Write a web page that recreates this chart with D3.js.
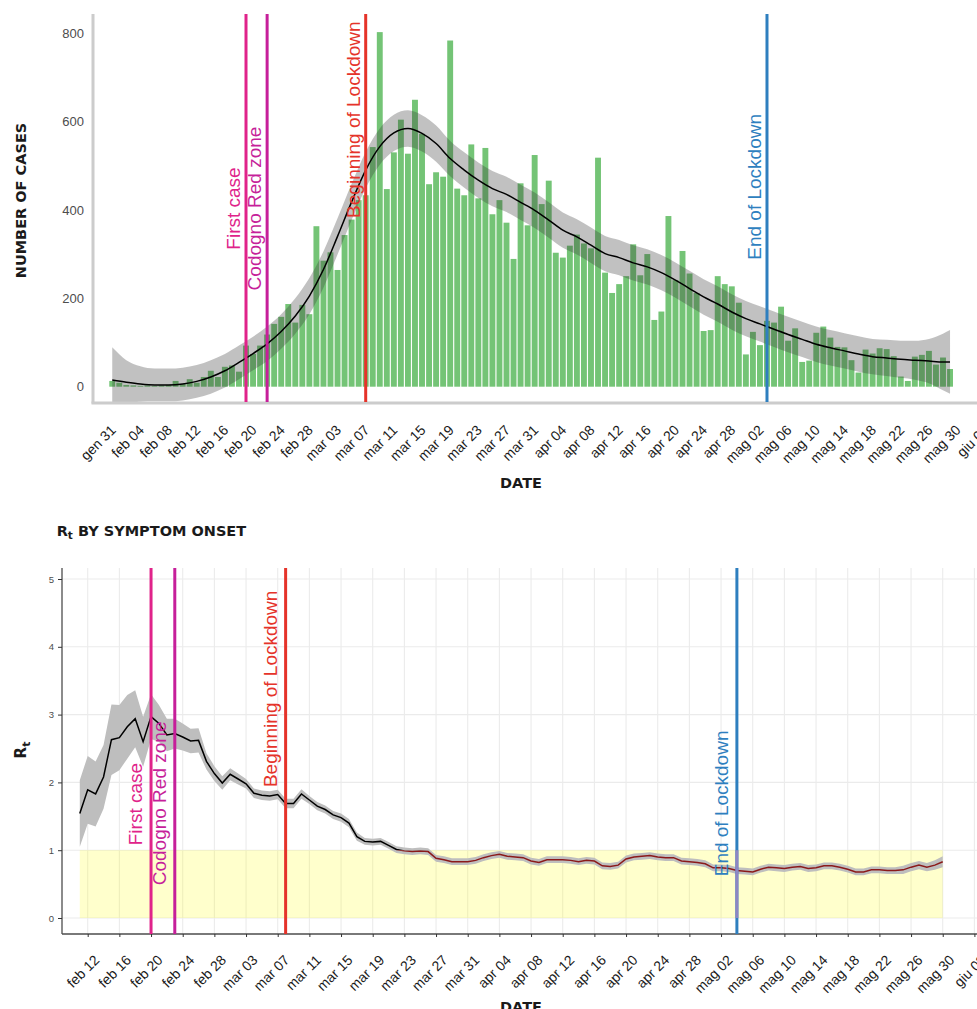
<!DOCTYPE html>
<html>
<head>
<meta charset="utf-8">
<script src="https://cdn.jsdelivr.net/npm/d3@7"></script>
<style>
body { margin: 0; background: #fff; }
svg text { font-family: "Liberation Sans", Arial, sans-serif; }
.title { font-family: "DejaVu Sans", sans-serif; font-weight: bold; fill: #1a1a1a; }
</style>
</head>
<body>
<svg id="chart" width="977" height="1009"></svg>
<script>
// daily cases by symptom onset, from 1 Feb to 30 May
var casesStart = "2020-02-01";
var cases = [13, 9, 4, 3, 2, 3, 2, 3, 4, 13,
  6, 17, 9, 22, 36, 22, 45, 48, 34, 93,
  74, 93, 118, 142, 158, 187, 145, 185, 164, 363,
  285, 304, 264, 343, 378, 422, 433, 542, 802, 447,
  530, 604, 527, 649, 572, 458, 485, 475, 783, 448,
  433, 548, 426, 540, 390, 422, 371, 289, 460, 365,
  524, 413, 466, 303, 292, 319, 344, 324, 313, 518,
  258, 212, 232, 250, 322, 252, 300, 151, 170, 386,
  241, 307, 256, 212, 126, 128, 250, 232, 227, 190,
  73, 124, 94, 149, 145, 181, 104, 132, 56, 59,
  122, 136, 111, 90, 89, 60, 32, 84, 75, 87,
  85, 69, 23, 13, 68, 72, 81, 50, 66, 40];

// smoothed curve (days after casesStart), fit and half width of the band
var smoothDay = [0, 2, 4, 6, 8, 10, 12, 14, 16, 18,
  20, 22, 24, 26, 28, 30, 32, 34, 36, 38,
  40, 42, 44, 46, 48, 50, 52, 54, 56, 58,
  60, 62, 64, 66, 68, 70, 72, 74, 76, 78,
  80, 82, 84, 86, 88, 90, 92, 94, 96, 98,
  100, 102, 104, 106, 108, 110, 112, 114, 116, 118, 119];
var smoothFit = [15, 10, 6, 4, 4, 6, 12, 22, 36, 55,
  75, 97, 125, 160, 205, 265, 340, 418, 490, 543,
  574, 584, 573, 550, 516, 490, 467, 448, 435, 417,
  399, 377, 354, 339, 320, 301, 292, 280, 271, 258,
  241, 222, 203, 187, 169, 154, 142, 130, 118, 107,
  96, 88, 81, 74, 68, 65, 62, 60, 58, 56, 56];
var smoothSe = [74, 50, 40, 37, 37, 37, 37, 38, 38, 38,
  38, 39, 39, 40, 41, 41, 41, 41, 41, 41,
  41, 41, 41, 41, 40, 40, 40, 40, 40, 40,
  40, 40, 40, 40, 40, 40, 40, 40, 40, 40,
  40, 40, 40, 40, 40, 40, 40, 40, 40, 40,
  40, 40, 40, 40, 40, 41, 42, 44, 50, 64, 72];

// Rt by symptom onset, from 11 Feb to 30 May
var rtStart = "2020-02-11";
var rtMean = [1.54, 1.89, 1.83, 2.08, 2.63, 2.66, 2.82, 2.94, 2.60, 2.97,
  2.87, 2.70, 2.72, 2.67, 2.61, 2.62, 2.31, 2.13, 1.99, 2.12,
  2.05, 1.98, 1.84, 1.81, 1.80, 1.82, 1.69, 1.69, 1.83, 1.74,
  1.65, 1.60, 1.52, 1.48, 1.40, 1.20, 1.13, 1.12, 1.13, 1.07,
  1.01, 0.99, 0.98, 0.99, 0.98, 0.88, 0.86, 0.83, 0.83, 0.83,
  0.85, 0.89, 0.92, 0.94, 0.91, 0.90, 0.89, 0.84, 0.82, 0.86,
  0.86, 0.86, 0.85, 0.83, 0.85, 0.84, 0.77, 0.76, 0.78, 0.87,
  0.90, 0.91, 0.92, 0.90, 0.89, 0.89, 0.84, 0.83, 0.82, 0.80,
  0.74, 0.74, 0.73, 0.70, 0.69, 0.68, 0.72, 0.75, 0.74, 0.73,
  0.75, 0.76, 0.73, 0.74, 0.77, 0.77, 0.75, 0.72, 0.68, 0.68,
  0.71, 0.71, 0.70, 0.70, 0.71, 0.75, 0.78, 0.75, 0.78, 0.83];
var rtSpread = [0.49, 0.50, 0.48, 0.47, 0.52, 0.48, 0.47, 0.42, 0.37, 0.33,
  0.27, 0.24, 0.22, 0.20, 0.18, 0.18, 0.12, 0.11, 0.10, 0.09,
  0.08, 0.07, 0.07, 0.07, 0.07, 0.07, 0.07, 0.07, 0.07, 0.06,
  0.06, 0.06, 0.06, 0.06, 0.06, 0.06, 0.05, 0.05, 0.05, 0.05,
  0.05, 0.05, 0.05, 0.05, 0.05, 0.05, 0.05, 0.05, 0.05, 0.05,
  0.05, 0.05, 0.05, 0.05, 0.05, 0.05, 0.05, 0.05, 0.05, 0.05,
  0.05, 0.05, 0.05, 0.05, 0.05, 0.05, 0.05, 0.05, 0.05, 0.05,
  0.05, 0.05, 0.05, 0.05, 0.05, 0.05, 0.05, 0.05, 0.05, 0.05,
  0.05, 0.05, 0.05, 0.05, 0.05, 0.05, 0.05, 0.05, 0.05, 0.05,
  0.05, 0.05, 0.05, 0.05, 0.05, 0.05, 0.05, 0.05, 0.05, 0.05,
  0.05, 0.05, 0.05, 0.05, 0.06, 0.06, 0.06, 0.06, 0.07, 0.08];

var eventDates = ["2020-02-20", "2020-02-23", "2020-03-08", "2020-05-04"];
var eventLabels = ["First case", "Codogno Red zone", "Beginning of Lockdown", "End of Lockdown"];

var shortMonthsIt = ["gen", "feb", "mar", "apr", "mag", "giu", "lug", "ago", "set", "ott", "nov", "dic"];
var yTicksCases = [0, 200, 400, 600, 800];
var yTicksRt = [0, 1, 2, 3, 4, 5];

var eventColor = ["#e0238a", "#c61f9a", "#e5332a", "#2e7fbf"];

var svg = d3.select("#chart");

function utc(s) { return new Date(s + "T00:00:00Z"); }
function addDays(s, n) { return d3.utcDay.offset(utc(s), n); }

var itLocale = d3.timeFormatLocale({
  dateTime: "%A %e %B %Y, %X", date: "%d/%m/%Y", time: "%H:%M:%S",
  periods: ["AM", "PM"],
  days: ["domenica", "lunedì", "martedì", "mercoledì", "giovedì", "venerdì", "sabato"],
  shortDays: ["dom", "lun", "mar", "mer", "gio", "ven", "sab"],
  months: ["gennaio", "febbraio", "marzo", "aprile", "maggio", "giugno", "luglio", "agosto", "settembre", "ottobre", "novembre", "dicembre"],
  shortMonths: shortMonthsIt
});
var fmtDay = itLocale.utcFormat("%b %d");

// ---------- top chart: number of cases ----------
var p1 = {left: 93, right: 977, top: 14, bottom: 402};

var x1 = d3.scaleUtc()
  .domain([utc("2020-01-31"), utc("2020-06-03")])
  .range([105.2, 978.2]);
var y1 = d3.scaleLinear()
  .domain([0, 800])
  .range([386.7, 33]);

svg.append("clipPath").attr("id", "clip1")
  .append("rect")
  .attr("x", p1.left).attr("y", p1.top)
  .attr("width", p1.right - p1.left).attr("height", p1.bottom - p1.top);

var g1 = svg.append("g");
var bw = 5.9;

g1.selectAll("rect.bar")
  .data(cases)
  .join("rect")
  .attr("class", "bar")
  .attr("x", function (d, i) { return x1(addDays(casesStart, i)) - bw / 2; })
  .attr("width", bw)
  .attr("y", function (d) { return y1(d); })
  .attr("height", function (d) { return y1(0) - y1(d); })
  .attr("fill", "#74c476");

var smooth = smoothDay.map(function (d, i) {
  return {date: addDays(casesStart, d), fit: smoothFit[i], se: smoothSe[i]};
});

g1.append("path")
  .datum(smooth)
  .attr("clip-path", "url(#clip1)")
  .attr("fill", "#333")
  .attr("fill-opacity", 0.3)
  .attr("d", d3.area()
    .x(function (d) { return x1(d.date); })
    .y0(function (d) { return y1(d.fit - d.se); })
    .y1(function (d) { return y1(d.fit + d.se); })
    .curve(d3.curveMonotoneX));

g1.append("path")
  .datum(smooth)
  .attr("fill", "none")
  .attr("stroke", "#000")
  .attr("stroke-width", 1.5)
  .attr("d", d3.line()
    .x(function (d) { return x1(d.date); })
    .y(function (d) { return y1(d.fit); })
    .curve(d3.curveMonotoneX));

// axis lines (light grey, thick)
g1.append("line")
  .attr("x1", p1.left).attr("x2", p1.left)
  .attr("y1", p1.top).attr("y2", p1.bottom + 1.5)
  .attr("stroke", "#cccccc").attr("stroke-width", 3);
g1.append("line")
  .attr("x1", p1.left - 1.5).attr("x2", p1.right)
  .attr("y1", p1.bottom + 1).attr("y2", p1.bottom + 1)
  .attr("stroke", "#cccccc").attr("stroke-width", 3);

var yAxis1 = g1.append("g")
  .attr("transform", "translate(" + p1.left + ",0)")
  .call(d3.axisLeft(y1).tickValues(yTicksCases).tickSize(0).tickPadding(9));
yAxis1.select(".domain").remove();
yAxis1.selectAll("text")
  .attr("font-size", 13)
  .attr("font-family", "Liberation Sans, Arial, sans-serif")
  .attr("fill", "#4d4d4d");

var xAxis1 = g1.append("g")
  .attr("transform", "translate(0," + p1.bottom + ")")
  .call(d3.axisBottom(x1)
    .tickValues(d3.utcDay.range(utc("2020-01-31"), utc("2020-06-04"), 4))
    .tickFormat(fmtDay)
    .tickSize(0));
xAxis1.select(".domain").remove();
xAxis1.selectAll("text")
  .attr("x", 0).attr("y", 0)
  .attr("dy", "0.71em")
  .attr("text-anchor", "end")
  .attr("transform", "translate(4,22) rotate(-45)")
  .attr("font-size", 14)
  .attr("font-family", "Liberation Sans, Arial, sans-serif")
  .attr("fill", "#1a1a1a");

// event lines and labels
var labelY1 = [403, 403, 604, 452];
eventDates.forEach(function (s, i) {
  var x = x1(utc(s));
  g1.append("line")
    .attr("x1", x).attr("x2", x)
    .attr("y1", p1.top).attr("y2", p1.bottom)
    .attr("stroke", eventColor[i]).attr("stroke-width", 3);
  g1.append("text")
    .attr("transform", "translate(" + (x - 6) + "," + y1(labelY1[i]) + ") rotate(-90)")
    .attr("text-anchor", "middle")
    .attr("font-size", 19)
    .attr("fill", eventColor[i])
    .text(eventLabels[i]);
});

g1.append("text")
  .attr("class", "title")
  .attr("transform", "translate(25.5,200.5) rotate(-90)")
  .attr("text-anchor", "middle")
  .attr("font-size", 14.5)
  .text("NUMBER OF CASES");

g1.append("text")
  .attr("class", "title")
  .attr("x", 521).attr("y", 488)
  .attr("text-anchor", "middle")
  .attr("font-size", 14.5)
  .text("DATE");

// ---------- bottom chart: Rt ----------
var p2 = {left: 62, right: 977, top: 568, bottom: 934};

var x2 = d3.scaleUtc()
  .domain([utc("2020-02-12"), utc("2020-06-03")])
  .range([87.7, 974.4]);
var y2 = d3.scaleLinear()
  .domain([0, 5])
  .range([918, 579]);

var g2 = svg.append("g");
var xTicks2 = d3.utcDay.range(utc("2020-02-12"), utc("2020-06-04"), 4);

// grid
g2.selectAll("line.vgrid")
  .data(xTicks2)
  .join("line")
  .attr("class", "vgrid")
  .attr("x1", function (d) { return x2(d); }).attr("x2", function (d) { return x2(d); })
  .attr("y1", p2.top).attr("y2", p2.bottom)
  .attr("stroke", "#ebebeb").attr("stroke-width", 1.1);
g2.selectAll("line.hgrid")
  .data(yTicksRt)
  .join("line")
  .attr("class", "hgrid")
  .attr("x1", p2.left).attr("x2", p2.right)
  .attr("y1", function (d) { return y2(d); }).attr("y2", function (d) { return y2(d); })
  .attr("stroke", "#ebebeb").attr("stroke-width", 1.1);

var rt = rtMean.map(function (v, i) {
  return {date: addDays(rtStart, i), v: v, s: rtSpread[i]};
});

// shaded zone Rt < 1
g2.append("rect")
  .attr("x", x2(rt[0].date))
  .attr("width", x2(rt[rt.length - 1].date) - x2(rt[0].date))
  .attr("y", y2(1))
  .attr("height", y2(0) - y2(1))
  .attr("fill", "#ffff00")
  .attr("fill-opacity", 0.2);

g2.append("path")
  .datum(rt)
  .attr("fill", "#bebebe")
  .attr("d", d3.area()
    .x(function (d) { return x2(d.date); })
    .y0(function (d) { return y2(d.v - d.s); })
    .y1(function (d) { return y2(d.v + d.s); }));

svg.append("clipPath").attr("id", "clipAbove")
  .append("rect")
  .attr("x", p2.left).attr("y", p2.top)
  .attr("width", p2.right - p2.left).attr("height", y2(1) - p2.top);
svg.append("clipPath").attr("id", "clipBelow")
  .append("rect")
  .attr("x", p2.left).attr("y", y2(1))
  .attr("width", p2.right - p2.left).attr("height", p2.bottom - y2(1));

var rtLine = d3.line()
  .x(function (d) { return x2(d.date); })
  .y(function (d) { return y2(d.v); });

g2.append("path")
  .datum(rt)
  .attr("clip-path", "url(#clipAbove)")
  .attr("fill", "none").attr("stroke", "#000").attr("stroke-width", 1.5)
  .attr("d", rtLine);
g2.append("path")
  .datum(rt)
  .attr("clip-path", "url(#clipBelow)")
  .attr("fill", "none").attr("stroke", "#8b1a1a").attr("stroke-width", 1.5)
  .attr("d", rtLine);

// axes
g2.append("line")
  .attr("x1", p2.left).attr("x2", p2.left)
  .attr("y1", p2.top).attr("y2", p2.bottom)
  .attr("stroke", "#4d4d4d").attr("stroke-width", 1.3);
g2.append("line")
  .attr("x1", p2.left).attr("x2", p2.right)
  .attr("y1", p2.bottom).attr("y2", p2.bottom)
  .attr("stroke", "#4d4d4d").attr("stroke-width", 1.3);

var yAxis2 = g2.append("g")
  .attr("transform", "translate(" + p2.left + ",0)")
  .call(d3.axisLeft(y2).tickValues(yTicksRt).tickFormat(d3.format("d")).tickSize(4).tickPadding(4));
yAxis2.select(".domain").remove();
yAxis2.selectAll("line").attr("stroke", "#333");
yAxis2.selectAll("text")
  .attr("font-size", 9.5)
  .attr("font-family", "Liberation Sans, Arial, sans-serif")
  .attr("fill", "#4d4d4d");

var xAxis2 = g2.append("g")
  .attr("transform", "translate(0," + p2.bottom + ")")
  .call(d3.axisBottom(x2).tickValues(xTicks2).tickFormat(fmtDay).tickSize(3));
xAxis2.select(".domain").remove();
xAxis2.selectAll("line").attr("stroke", "#333");
xAxis2.selectAll("text")
  .attr("x", 0).attr("y", 0)
  .attr("dy", "0.71em")
  .attr("text-anchor", "end")
  .attr("transform", "translate(5,20) rotate(-45)")
  .attr("font-size", 14)
  .attr("font-family", "Liberation Sans, Arial, sans-serif")
  .attr("fill", "#1a1a1a");

// event lines and labels
var labelY2 = [1.68, 1.69, 3.38, 1.69];
eventDates.forEach(function (s, i) {
  var x = x2(utc(s));
  g2.append("line")
    .attr("x1", x).attr("x2", x)
    .attr("y1", p2.top).attr("y2", p2.bottom)
    .attr("stroke", eventColor[i]).attr("stroke-width", 3);
  if (i === 3) {
    g2.append("line")
      .attr("x1", x).attr("x2", x)
      .attr("y1", y2(1)).attr("y2", y2(0))
      .attr("stroke", "#8e86c2").attr("stroke-width", 3);
  }
  g2.append("text")
    .attr("transform", "translate(" + (x - 9) + "," + y2(labelY2[i]) + ") rotate(-90)")
    .attr("text-anchor", "middle")
    .attr("font-size", 19)
    .attr("fill", eventColor[i])
    .text(eventLabels[i]);
});

var rtTitle = g2.append("text")
  .attr("class", "title")
  .attr("x", 56.7).attr("y", 535.7)
  .attr("font-size", 14.5);
rtTitle.append("tspan").text("R");
rtTitle.append("tspan").attr("dy", 3.5).attr("font-size", 10.5).text("t");
rtTitle.append("tspan").attr("dy", -3.5).text(" BY SYMPTOM ONSET");

var rtAxisTitle = g2.append("text")
  .attr("class", "title")
  .attr("transform", "translate(26,750) rotate(-90)")
  .attr("text-anchor", "middle")
  .attr("font-size", 15);
rtAxisTitle.append("tspan").text("R");
rtAxisTitle.append("tspan").attr("dy", 3.5).attr("font-size", 11).text("t");

g2.append("text")
  .attr("class", "title")
  .attr("x", 521).attr("y", 1011.5)
  .attr("text-anchor", "middle")
  .attr("font-size", 14.5)
  .text("DATE");
</script>
</body>
</html>
